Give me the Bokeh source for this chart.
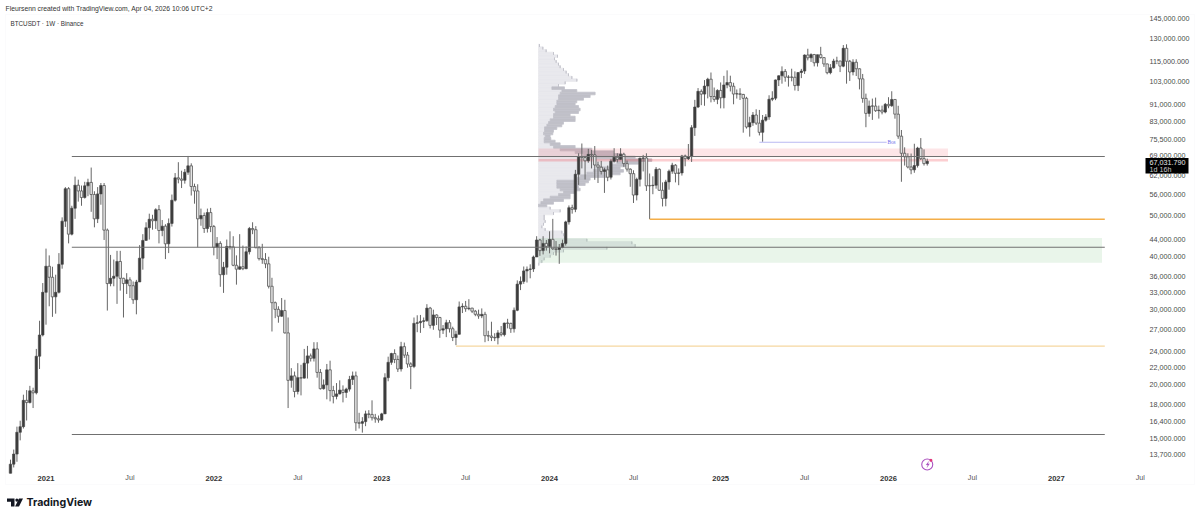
import numpy as np
import pandas as pd
from bokeh.plotting import figure
from bokeh.embed import file_html
from bokeh.resources import INLINE
from bokeh.models import (Range1d, FixedTicker, NumeralTickFormatter, LinearAxis, Label,
                          BoxAnnotation, PolyAnnotation)

first_week = "2020-10-19"

opens = [
 12400,13030,13760,15480,15960,18400,18180,19370,19160,23360,26200,
 33000,38000,35800,32200,33000,38400,48500,57800,45200,52000,
 58900,57100,55100,58700,59800,56000,49100,56200,58800,46200,
 34600,35600,36000,39000,35600,34600,35300,34200,31700,34900,
 39700,43700,46800,49000,48600,51600,46100,47200,42900,47900,
 54300,61300,60900,60500,63200,65400,58500,57100,49100,50000,
 46600,50800,
 47100,42100,43000,36300,37800,42300,42200,38200,37400,37900,
 37500,41100,46600,46300,42000,39600,39400,38500,34100,31200,
 30100,29000,29900,26500,20500,21000,19300,20800,20750,22500,
 23400,23100,24300,21400,19600,20000,21700,19400,18800,19050,
 19450,19200,19550,20600,21000,16300,16250,16400,17100,17050,
 16750,16650,
 16550,17100,20800,22600,23700,22950,21800,24600,23500,22400,
 22100,27900,28000,28200,28300,30300,27600,29200,28800,26900,
 27100,28000,27100,25850,26300,30500,30600,30200,30300,29800,
 29300,29050,29300,26100,26050,25850,25800,26500,26250,27950,
 27900,27100,29950,34500,35000,37050,37350,37450,39950,43800,
 41350,43000,
 42300,43950,41750,41600,42050,43000,48300,52150,51700,62500,
 68800,68400,67200,69600,69400,65700,64950,63450,64000,61500,
 67050,68500,67750,69650,66200,64250,62700,55850,60800,68150,
 68250,58700,58750,58900,64200,57300,54850,59950,63550,65650,
 62800,62950,69000,68000,68750,80400,89900,97850,96400,100700,
 104500,95150,93700,
 98350,94500,101300,102600,100600,96450,96600,96250,94250,80700,
 82600,86100,82400,78400,83750,85200,93750,94300,104100,106450,
 109000,105650,105700,105600,100950,108350,109200,119100,117300,119400,
 114200,119300,117450,113500,108250,111150,115300,115300,112150,123500,
 115150,108650,114550,110550,104700,94200,86850,90400,90350,88150,
 88400,87500,
 91200,90500,93650,86500,76800,70000,68700,65000,64000,65500,72000,68000,66200,
]
highs = [
 13350,14100,15960,16480,18970,19450,19900,19700,24300,28300,34700,
 41800,40300,37900,36300,40800,49500,58300,58300,52700,61700,
 60700,58800,60000,61000,64800,57000,58300,59600,59600,46600,
 40400,39400,41300,41300,35700,36600,35800,35000,35300,42600,
 45200,48200,50500,50200,52000,52900,48800,47700,49200,56000,
 62900,66700,63700,64300,69000,66300,59400,59200,51900,50800,
 51900,52100,
 47500,44500,43500,38900,43900,45900,44700,40300,45200,42500,
 42300,47000,48200,47200,42400,42900,40800,40000,35700,31400,
 30600,32000,31700,28800,21900,21500,22500,22300,24300,24700,
 23700,25200,25200,21800,20600,22400,22800,19900,20200,20500,
 19950,19700,21000,21500,21500,17200,16800,17400,17450,18400,
 17100,16950,
 17200,21300,23300,23800,24250,23450,25250,25150,23900,22600,
 28800,29150,29200,28800,30950,30500,30050,29300,28900,27650,
 28450,28400,27400,26800,31400,31100,31500,31800,30350,30000,
 30050,30250,29700,26800,28150,26450,26900,27500,28000,28600,
 28000,30400,35200,35950,37950,37950,38400,40250,44700,44050,
 44700,43800,
 45900,49100,43550,42850,43880,48600,52800,53000,64000,70000,
 73800,68900,71700,71300,72800,66900,67200,64750,65500,67700,
 71950,70000,71950,70200,67300,64500,63850,61350,68400,69400,
 70000,62750,61800,65000,64500,59800,60650,64100,66500,66000,
 64500,69400,69500,73600,81500,93450,99600,98900,104000,105300,
 108350,99900,98950,
 102700,106400,109600,106500,102500,98850,99500,96500,95000,85300,
 87500,88800,88500,86100,86500,95800,97900,104300,106700,112000,
 110400,106800,110600,109000,108500,110500,119500,123200,120200,119800,
 119300,124500,117650,113650,113400,116700,118000,115400,125700,126200,
 115950,116400,116400,110800,107500,96650,93100,94100,94600,90600,
 90600,91900,
 94800,97900,93700,90500,79400,72300,70000,69900,73700,72500,76000,71500,68000,
]
lows = [
 12400,12800,13200,14820,15800,16500,18100,17650,19000,21800,26000,
 27700,30600,28900,29400,32800,37500,47000,43000,44900,49100,
 53900,52700,54800,55500,51000,46900,48000,53000,43800,29900,
 34100,34100,31000,33300,28800,32700,32000,31000,29300,34900,
 37300,43700,43900,46300,46500,43000,44700,39500,40800,47100,
 53900,59500,58000,59400,62300,55700,53300,42100,47300,45500,
 45600,45700,
 40300,39500,34000,32900,36300,41600,38000,34400,37300,37200,
 37400,40500,45200,41900,39200,38500,37600,33700,26700,28700,
 28000,28900,26400,17650,19700,18700,19000,18900,20700,20700,
 22700,22700,20800,19500,19500,18500,18300,18100,18500,19000,
 18200,18650,19300,20000,15600,15800,15450,16000,16700,16500,
 16300,16300,
 16450,17100,20400,22300,22500,21450,21500,23150,21950,19550,
 21900,26600,26500,27200,28150,27150,26950,27650,25800,26350,
 25900,26550,25350,24800,26250,29500,29700,29950,29500,29000,
 28600,28700,25200,25350,25350,25350,24900,26000,26000,27150,
 26500,26550,29800,33400,34550,34800,35600,36850,39950,40200,
 40500,41350,
 40750,41500,40250,38500,41900,42500,47600,50500,50900,59000,
 64500,60750,66500,64500,60650,59600,62400,56500,60200,60750,
 66600,66650,67600,65050,63400,58400,53500,54250,58500,63450,
 57100,49050,56100,57800,57200,52500,52550,57500,62650,59800,
 58900,62050,65250,67500,66800,76900,89400,90800,90500,94200,
 92200,92500,91300,
 89250,89250,99500,97800,91250,94100,93400,78250,80000,76600,
 81200,81600,77100,74500,83100,83900,92800,93300,100700,102000,
 103100,100400,103300,98300,98000,105100,107500,115700,114700,112000,
 111900,116800,111700,107300,107300,110600,113300,108600,111500,102000,
 103500,106700,106300,98900,92000,80600,85300,83850,87550,84450,
 86400,86900,
 89300,90000,84400,75700,60000,65500,64500,62500,63000,64800,67500,65500,65500,
]
closes = [
 13030,13760,15480,15960,18400,18180,19370,19160,23360,26200,33000,
 38000,35800,32200,33000,38400,48500,57800,45200,52000,58900,
 57100,55100,58700,59800,56000,49100,56200,58800,46200,34600,
 35600,36000,39000,35600,34600,35300,34200,31700,34900,39700,
 43700,46800,49000,48600,51600,46100,47200,42900,47900,54300,
 61300,60900,60500,63200,65400,58500,57100,49100,50000,46600,
 50800,47100,
 42100,43000,36300,37800,42300,42200,38200,37400,37900,37500,
 41100,46600,46300,42000,39600,39400,38500,34100,31200,30100,
 29000,29900,26500,20500,21000,19300,20800,20750,22500,23400,
 23100,24300,21400,19600,20000,21700,19400,18800,19050,19450,
 19200,19550,20600,21000,16300,16250,16400,17100,17050,16750,
 16650,16550,
 17100,20800,22600,23700,22950,21800,24600,23500,22400,22100,
 27900,28000,28200,28300,30300,27600,29200,28800,26900,27100,
 28000,27100,25850,26300,30500,30600,30200,30300,29800,29300,
 29050,29300,26100,26050,25850,25800,26500,26250,27950,27900,
 27100,29950,34500,35000,37050,37350,37450,39950,43800,41350,
 43000,42300,
 43950,41750,41600,42050,43000,48300,52150,51700,62500,68800,
 68400,67200,69600,69400,65700,64950,63450,64000,61500,67050,
 68500,67750,69650,66200,64250,62700,55850,60800,68150,68250,
 58700,58750,58900,64200,57300,54850,59950,63550,65650,62800,
 62950,69000,68000,68750,80400,89900,97850,96400,100700,104500,
 95150,93700,98350,
 94500,101300,102600,100600,96450,96600,96250,94250,80700,82600,
 86100,82400,78400,83750,85200,93750,94300,104100,106450,109000,
 105650,105700,105600,100950,108350,109200,119100,117300,119400,114200,
 119300,117450,113500,108250,111150,115300,115300,112150,123500,115150,
 108650,114550,110550,104700,94200,86850,90400,90350,88150,88400,
 87500,91200,
 90500,93650,86500,76800,70000,68700,65000,64000,65500,72000,68000,66200,67032,
]

price_ticks = [145000,130000,115000,103000,91000,83000,75500,69000,62000,56000,50000,44000,
               40000,36000,33000,30000,27000,24000,22000,20000,18000,16400,15000,13700]
year_ticks = {"2021-01-04":"2021","2022-01-03":"2022","2023-01-02":"2023","2024-01-01":"2024",
              "2025-01-06":"2025","2026-01-05":"2026","2027-01-04":"2027"}
month_ticks = {"2021-07-05":"Jul","2022-07-04":"Jul","2023-07-03":"Jul","2024-07-01":"Jul",
               "2025-07-07":"Jul","2026-07-06":"Jul","2027-07-05":"Jul"}

profile_light = [3,13,23,45,57,48,53,60,65,75,83,90,100,115,80,60,
 40,70,65,60,60,55,55,50,45,50,45,45,35,30,25,18,18,15,20,17,17,35,45,65,110,135,150,215,235,215,
 175,165,145,125,115,55,55,55,65,75,60,35,15,7,0,
 35,65,45,17,17,20,15,10,20,70,75,80,145,280,290,205,75,45,35,17,10,1]
profile_total = [3,13,23,45,57,48,53,60,65,75,83,90,100,115,80,60,
 78,115,170,155,135,115,110,120,125,120,95,110,110,75,70,55,45,43,35,37,50,65,110,160,225,250,290,340,300,265,
 245,255,245,205,155,150,140,120,125,110,95,95,75,45,25,
 35,65,45,17,17,20,15,10,20,70,75,80,145,280,290,205,75,45,35,17,10,1]
profile_top, profile_bottom = 126300, 38150
profile_start = "2023-12-08"

level_prices = [68800, 42100, 15300]
level_start, level_end = "2021-03-01", "2027-04-19"
orange_level, orange_start = 49000, "2024-08-05"
yellow_level, yellow_start = 24660, "2023-06-12"
bos_level, bos_start, bos_end = 74300, "2025-03-31", "2026-01-01"
supply_top, supply_bottom = 71800, 68800
supply_strip_bottom = 67000
supply_line_top, supply_line_bottom = 67900, 67000
supply_end = "2026-05-14"
demand_top, demand_bottom, demand_end = 44300, 38700, "2027-04-13"
last_price_text, countdown_text = "67,031.790", "1d 16h"
event_date, event_price, event_dot_date, event_dot_price = "2026-03-30", 13000, "2026-04-07", 13300

assert len(opens) == len(highs) == len(lows) == len(closes), (len(opens), len(highs), len(lows), len(closes))

def ms(d):
    return int(pd.Timestamp(d).timestamp() * 1000)

WEEK = 7 * 86400000
PX_PER_WEEK = 3.228
X0 = ms("2021-01-04")
dates = pd.date_range(first_week, periods=len(closes), freq="7D")
xs = np.array([int(t.timestamp() * 1000) for t in dates], dtype=float)

W, H = 1200, 518
x_at = lambda px: X0 + (px - 45.5) / PX_PER_WEEK * WEEK
y_at = lambda py: 50000 * np.exp((215 - py) / 184.9)
x_range = Range1d(x_at(0), x_at(W))
y_range = Range1d(float(y_at(H)), float(y_at(0)))

p = figure(width=W, height=H, output_backend="svg", toolbar_location=None, y_axis_type="log",
           y_axis_location="right", x_range=x_range, y_range=y_range,
           min_border_left=0, min_border_right=0, min_border_top=0, min_border_bottom=0)
p.grid.visible = False
p.outline_line_color = None
p.background_fill_color = "white"
p.border_fill_color = "white"

FONT = "Liberation Sans"
yax = p.yaxis[0]
yax.fixed_location = x_at(1146)
yax.ticker = FixedTicker(ticks=price_ticks)
yax.formatter = NumeralTickFormatter(format="0,0.000")
yax.axis_line_color = None
yax.major_tick_line_color = None
yax.minor_tick_line_color = None
yax.major_tick_out = 0
yax.major_tick_in = 0
yax.major_label_standoff = 3
yax.major_label_text_font = FONT
yax.major_label_text_font_size = "7.2px"
yax.major_label_text_color = "#4a4a4a"

xax = p.xaxis[0]
xax.fixed_location = float(y_at(472))
xax.ticker = FixedTicker(ticks=[ms(k) for k in month_ticks])
xax.major_label_overrides = {ms(k): v for k, v in month_ticks.items()}
xax.axis_line_color = None
xax.major_tick_line_color = None
xax.minor_tick_line_color = None
xax.major_tick_out = 0
xax.major_tick_in = 0
xax.major_label_standoff = 0
xax.major_label_text_font = FONT
xax.major_label_text_font_size = "7.2px"
xax.major_label_text_color = "#555555"

yrax = LinearAxis(fixed_location=float(y_at(472)),
                  ticker=FixedTicker(ticks=[ms(k) for k in year_ticks]),
                  major_label_overrides={ms(k): v for k, v in year_ticks.items()},
                  axis_line_color=None, major_tick_line_color=None, minor_tick_line_color=None,
                  major_tick_out=0, major_tick_in=0,
                  major_label_standoff=3, major_label_text_font=FONT, major_label_text_font_size="7.6px",
                  major_label_text_font_style="bold", major_label_text_color="#333333")
p.add_layout(yrax, "below")

# volume profile
edges = np.geomspace(profile_top, profile_bottom, len(profile_light) + 1)
unit = WEEK / PX_PER_WEEK / 3
x_prof = ms(profile_start)
light = np.array(profile_light, dtype=float)
total = np.array(profile_total, dtype=float)
p.quad(left=x_prof, right=x_prof + light * unit, top=edges[:-1], bottom=edges[1:],
       fill_color="#e8e8ed", line_color="#e8e8ed", line_width=0.7)
p.quad(left=x_prof + light * unit, right=x_prof + total * unit, top=edges[:-1], bottom=edges[1:],
       fill_color="#c0c0c8", line_color="#c0c0c8", line_width=0.7)

# zones
p.quad(left=[x_prof], right=[ms(supply_end)], top=[supply_top], bottom=[supply_bottom],
       fill_color="#f23645", fill_alpha=0.13, line_color=None)
p.quad(left=[x_prof], right=[ms(supply_end)], top=[supply_bottom], bottom=[supply_strip_bottom],
       fill_color="#f23645", fill_alpha=0.03, line_color=None)
p.quad(left=[x_prof], right=[ms(supply_end)], top=[supply_line_top], bottom=[supply_line_bottom],
       fill_color="#f23645", fill_alpha=0.22, line_color=None)
p.quad(left=[x_prof], right=[ms(demand_end)], top=[demand_top], bottom=[demand_bottom],
       fill_color="#4caf50", fill_alpha=0.12, line_color=None)

# candles
o, h, l, c = map(np.array, (opens, highs, lows, closes))
up = c >= o
p.segment(xs, h, xs, l, line_color="#666666", line_width=1)
BODY = 0.76 * WEEK
p.vbar(x=xs[up], top=c[up], bottom=o[up], width=BODY, fill_color="#3c3c3c", line_color="#444444", line_width=0.6)
p.vbar(x=xs[~up], top=o[~up], bottom=c[~up], width=BODY, fill_color="#e8e8e8", line_color="#555555", line_width=0.8)

# levels
for lv in level_prices:
    p.segment([ms(level_start)], [lv], [ms(level_end)], [lv], line_color="#707070", line_width=1.1)
p.segment([ms(orange_start)], [orange_level], [ms(level_end)], [orange_level], line_color="#f4ae48", line_width=1.4)
p.segment([ms(yellow_start)], [yellow_level], [ms(level_end)], [yellow_level], line_color="#f6d7a0", line_width=1.2)
p.segment([ms(bos_start)], [bos_level], [ms(bos_end)], [bos_level], line_color="#b9b9f2", line_width=1)
p.text([ms(bos_end) + 0.25 * WEEK], [bos_level], text=["Bos"], text_font=FONT, text_font_size="5.2px",
       text_color="#6a6aea", text_baseline="middle", text_align="left")

# event icon
p.scatter([ms(event_date)], [event_price], marker="circle", size=11, fill_color=None, line_color="#ab52c0", line_width=1.1)
p.scatter([ms(event_dot_date)], [event_dot_price], marker="circle", size=3, fill_color="#e0357a", line_color=None)
p.add_layout(PolyAnnotation(xs=[928.4, 925.4, 927.2, 926.2, 929.2, 927.4],
                            ys=[460.4, 464.6, 464.6, 467.6, 463.2, 463.2],
                            xs_units="canvas", ys_units="canvas", fill_color="#ab52c0", fill_alpha=1,
                            line_color="#ab52c0", line_width=0.3))

# pane border
p.add_layout(BoxAnnotation(left=5, right=1194, top=14, bottom=484,
                           left_units="canvas", right_units="canvas", top_units="canvas", bottom_units="canvas",
                           fill_alpha=0, line_color="#f1f2f5", line_width=1, level="underlay"))

# price tag
p.add_layout(BoxAnnotation(left=1145, right=1188, top=157.5, bottom=173,
                           left_units="canvas", right_units="canvas", top_units="canvas", bottom_units="canvas",
                           fill_color="#000000", fill_alpha=1, line_color=None, level="overlay"))

def label(text, x, y, size, color="#222222", style="normal", font=FONT):
    p.add_layout(Label(x=x, y=y, x_units="canvas", y_units="canvas", text=text, text_font=font,
                       text_font_size=size, text_color=color, text_font_style=style,
                       text_baseline="middle", text_align="left", level="overlay"))

label(last_price_text, 1149, 161.5, "7.2px", "#e8e8e8")
label(countdown_text, 1149, 169, "7.2px", "#c8c8c8")
label("Fleursenn created with TradingView.com, Apr 04, 2026 10:06 UTC+2", 5, 8, "6.8px", "#333333")
label("BTCUSDT · 1W · Binance", 10, 22.5, "6.3px", "#333333")
label("TradingView", 26, 502, "10.6px", "#131722", "bold", "Inter")

# logo
p.add_layout(PolyAnnotation(xs=[6.5, 14, 14, 10.5, 10.5, 6.5], ys=[498, 498, 506, 506, 501.2, 501.2],
                            xs_units="canvas", ys_units="canvas", fill_color="#131722", fill_alpha=1, line_color=None))
p.add_layout(PolyAnnotation(xs=[18.5, 22.5, 18.5, 14.6], ys=[498, 498, 506, 506],
                            xs_units="canvas", ys_units="canvas", fill_color="#131722", fill_alpha=1, line_color=None))
p.add_layout(BoxAnnotation(left=14.8, right=18, top=498, bottom=501.2,
                           left_units="canvas", right_units="canvas", top_units="canvas", bottom_units="canvas",
                           fill_color="#131722", fill_alpha=1, line_color=None, border_radius=2))

open("out.html", "w").write(file_html(p, INLINE))
